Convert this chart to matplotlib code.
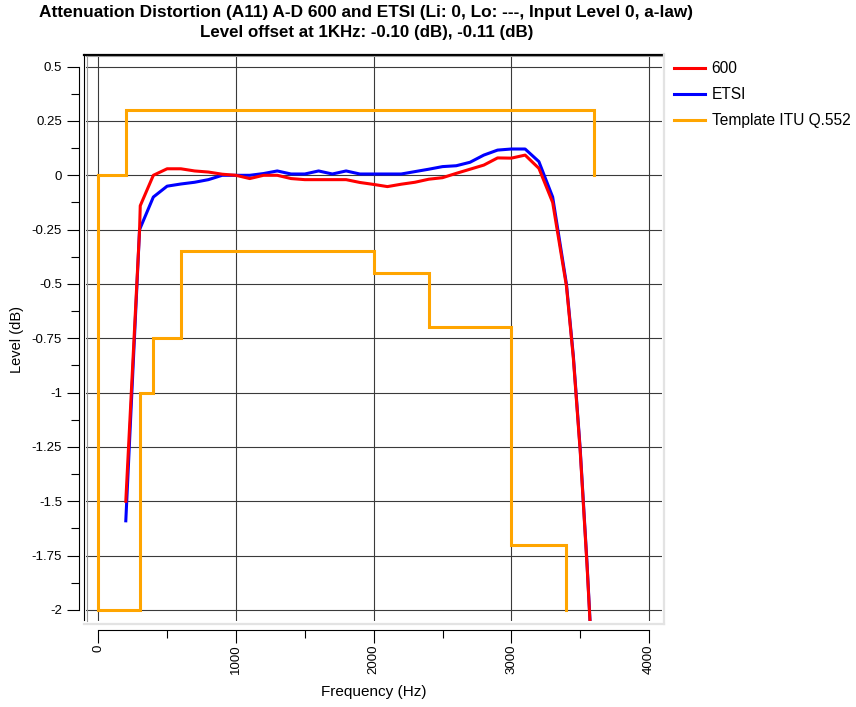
# Attenuation distortion A-D 600 / ETSI against the ITU Q.552 template

import matplotlib.pyplot as plt
from matplotlib.lines import Line2D

plt.rcParams['font.family'] = ['Liberation Sans', 'DejaVu Sans']
plt.rcParams['axes.unicode_minus'] = False

# measured curves (Hz, dB)
freq_600 = [200, 300, 305, 400, 500, 600, 700, 800, 900, 1000, 1100, 1200, 1300, 1400, 1500,
            1600, 1700, 1800, 1900, 2000, 2100, 2200, 2300, 2400, 2500, 2600, 2700, 2800, 2900,
            3000, 3100, 3200, 3300, 3400, 3450, 3500, 3550, 3600]
level_600 = [-1.50, -0.25, -0.14, 0.00, 0.03, 0.03, 0.02, 0.015, 0.005, 0.00, -0.015, 0.00, 0.00,
             -0.015, -0.02, -0.02, -0.02, -0.02, -0.033, -0.042, -0.052, -0.041, -0.032, -0.018,
             -0.011, 0.009, 0.028, 0.047, 0.08, 0.079, 0.093, 0.032, -0.125, -0.51, -0.84, -1.27,
             -1.80, -2.4]

freq_etsi = [200, 300, 400, 500, 600, 700, 800, 900, 1000, 1100, 1200, 1300, 1400, 1500, 1600,
             1700, 1800, 1900, 2000, 2100, 2200, 2300, 2400, 2500, 2600, 2700, 2800, 2900, 3000,
             3100, 3200, 3300, 3400, 3450, 3500, 3550, 3600]
level_etsi = [-1.59, -0.25, -0.10, -0.05, -0.04, -0.032, -0.02, 0.0, 0.0, 0.0, 0.008, 0.02, 0.006,
              0.006, 0.02, 0.006, 0.02, 0.006, 0.006, 0.006, 0.006, 0.017, 0.028, 0.040, 0.044,
              0.060, 0.093, 0.116, 0.121, 0.121, 0.063, -0.10, -0.50, -0.83, -1.26, -1.79, -2.4]

# ITU Q.552 template (step breakpoints)
upper_f = [0, 200, 3600]
upper_db = [0.0, 0.3, 0.0]
lower_f = [0, 0, 300, 400, 600, 2000, 2400, 3000, 3400]
lower_db = [0.0, -2.0, -1.0, -0.75, -0.35, -0.45, -0.7, -1.7, -2.0]

x_ticks = [0, 1000, 2000, 3000, 4000]
x_minor = [500, 1500, 2500, 3500]
y_ticks = [0.5, 0.25, 0, -0.25, -0.5, -0.75, -1, -1.25, -1.5, -1.75, -2]
y_tick_labels = ['0.5', '0.25', '0', '-0.25', '-0.5', '-0.75', '-1', '-1.25', '-1.5', '-1.75', '-2']
y_minor = [0.375, 0.125, -0.125, -0.375, -0.625, -0.875, -1.125, -1.375, -1.625, -1.875]

W, H = 856, 707
fig = plt.figure(figsize=(W / 100, H / 100), dpi=100)

def fx(px):
    return px / W

def fy(py):
    return 1 - py / H

ax = fig.add_axes([fx(86), fy(621), fx(662) - fx(86), fy(56) - fy(621)])
ax.set_xlim(-89, 4094)
ax.set_ylim(-2.051, 0.549)

ax.plot(freq_600, level_600, color='#ff0000', lw=2.2, label='600', zorder=4)
ax.plot(freq_etsi, level_etsi, color='#0000ff', lw=2.2, label='ETSI', zorder=3)
ax.plot(upper_f, upper_db, color='#ffa500', lw=2.2, drawstyle='steps-post',
        label='Template ITU Q.552', zorder=2, solid_joinstyle='miter')
ax.plot(lower_f, lower_db, color='#ffa500', lw=2.2, drawstyle='steps-post',
        zorder=2, solid_joinstyle='miter')

ax.set_xticks(x_ticks)
ax.set_xticks(x_minor, minor=True)
ax.set_yticks(y_ticks)
ax.set_yticklabels(y_tick_labels)
ax.set_yticks(y_minor, minor=True)
ax.grid(True, which='major', color='#3a3a3a', lw=0.8)

for s in ['top', 'right']:
    ax.spines[s].set_visible(False)
ax.spines['left'].set_position(('outward', 4.8))
ax.spines['left'].set_bounds(-2, 0.5)
ax.spines['bottom'].set_position(('outward', 6.5))
ax.spines['bottom'].set_bounds(0, 4000)
for s in ['left', 'bottom']:
    ax.spines[s].set_linewidth(0.8)

ax.tick_params(which='major', length=9, width=0.8, direction='out', labelsize=9.5, pad=3.4)
ax.tick_params(which='minor', length=6, width=0.8, direction='out')
ax.tick_params(axis='x', labelrotation=90, pad=1.2)

# plot frame
fig.add_artist(Line2D([fx(84.3), fx(84.3)], [fy(53.5), fy(620)], color='black', lw=0.8))
fig.add_artist(Line2D([fx(84), fx(662)], [fy(54.5), fy(54.5)], color='black', lw=1.6))
fig.add_artist(Line2D([fx(86), fx(662)], [fy(56.3), fy(56.3)], color='#9a9a9a', lw=0.8))
fig.add_artist(Line2D([fx(86.6), fx(86.6)], [fy(56), fy(621)], color='#9a9a9a', lw=0.8))
fig.add_artist(Line2D([fx(663.5), fx(663.5)], [fy(54), fy(624)], color='#e3e3e3', lw=1.6))
fig.add_artist(Line2D([fx(84), fx(664)], [fy(623.5), fy(623.5)], color='#e3e3e3', lw=1.6))

fig.text(fx(366), fy(13), 'Attenuation Distortion (A11) A-D 600 and ETSI (Li: 0, Lo: ---, Input Level 0, a-law)',
         ha='center', va='center', fontsize=12.4, fontweight='bold')
fig.text(fx(367), fy(32), 'Level offset at 1KHz: -0.10 (dB), -0.11 (dB)',
         ha='center', va='center', fontsize=12.2, fontweight='bold')

fig.text(fx(17), fy(340), 'Level (dB)', rotation=90, ha='center', va='center', fontsize=10.5)
fig.text(fx(374), fy(692), 'Frequency (Hz)', ha='center', va='center', fontsize=11)

ax.legend(loc='upper left', bbox_to_anchor=(fx(674), fy(61)), bbox_transform=fig.transFigure,
          frameon=False, fontsize=11.2, handlelength=2.0, handletextpad=0.42,
          borderpad=0, borderaxespad=0, labelspacing=0.72)

plt.savefig('out.png', dpi=100)
